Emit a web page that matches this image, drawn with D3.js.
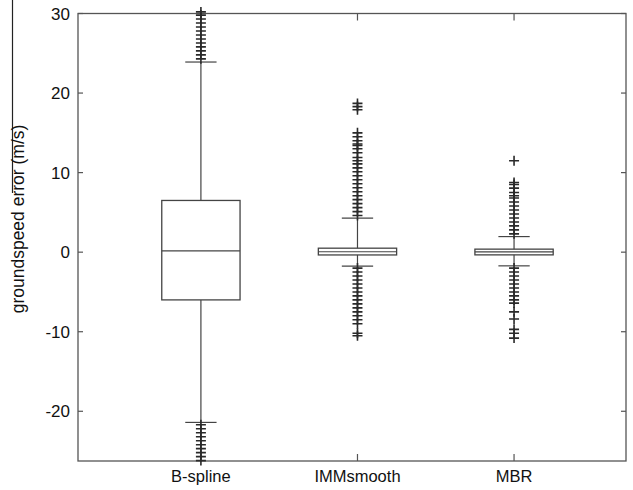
<!DOCTYPE html>
<html>
<head>
<meta charset="utf-8">
<script src="https://cdn.jsdelivr.net/npm/d3@7"></script>
<style>
  body { margin: 0; background: #fff; }
  svg text { font-family: "Liberation Sans", Arial, sans-serif; fill: #111; }
</style>
</head>
<body>
<div id="chart"></div>
<script>
// categories and box statistics
const categories = ["B-spline", "IMMsmooth", "MBR"];
const q1 = [-6.0, -0.35, -0.34];
const median = [0.15, 0.05, 0.04];
const q3 = [6.5, 0.5, 0.38];
const whiskerLow = [-21.4, -1.75, -1.72];
const whiskerHigh = [23.9, 4.28, 1.96];

// outliers ("+" markers)
const outliersBspline = [
  24.3, 24.8, 25.3, 25.8, 26.3, 26.8, 27.3, 27.8, 28.3, 28.8, 29.3, 29.8, 30.2,
  -21.7, -22.2, -22.7, -23.2, -23.7, -24.2, -24.7, -25.2, -25.7, -26.2
];
const outliersIMM = [
  4.6, 5.1, 5.6, 6.1, 6.6, 7.1, 7.6, 8.1, 8.6, 9.1, 9.6, 10.1, 10.6, 11.1, 11.5, 11.9,
  12.5, 13.0, 13.4, 13.6, 14.0, 14.5, 15.0, 17.9, 18.3, 18.7,
  -2.0, -2.5, -3.0, -3.5, -4.0, -4.5, -5.0, -5.5, -6.0, -6.5, -7.0, -7.5, -8.0, -8.5,
  -9.0, -10.2, -10.5
];
const outliersMBR = [
  2.3, 2.8, 3.3, 3.8, 4.3, 4.8, 5.3, 5.8, 6.3, 6.8, 7.1, 7.5, 8.05, 8.5, 8.75, 11.5,
  -2.0, -2.5, -3.0, -3.5, -4.0, -4.5, -5.0, -5.5, -6.0, -6.4, -7.5, -8.4, -9.7, -10.2, -10.8
];
const outliers = [outliersBspline, outliersIMM, outliersMBR];

const yTicks = [-20, -10, 0, 10, 20, 30];
const yLabel = "groundspeed error (m/s)";

const W = 633, H = 490;
const plot = { left: 78, right: 626, top: 13.5, bottom: 461 };

const svg = d3.select("#chart").append("svg")
  .attr("width", W).attr("height", H);

const x = d3.scaleLinear().domain([0.215, 3.715]).range([plot.left, plot.right]);
const y = d3.scaleLinear().domain([-26.25, 30]).range([plot.bottom, plot.top]);

const lineColor = "#444";
const boxHalf = 0.25, capHalf = 0.1;

// stray vertical line at the far left of the original figure
svg.append("line")
  .attr("x1", 12.5).attr("x2", 12.5).attr("y1", 0).attr("y2", 193)
  .attr("stroke", "#222").attr("stroke-width", 1.2);

// axes box
svg.append("rect")
  .attr("x", plot.left).attr("y", plot.top)
  .attr("width", plot.right - plot.left).attr("height", plot.bottom - plot.top)
  .attr("fill", "none").attr("stroke", "#555").attr("stroke-width", 1.3);

// y ticks (inside, both sides)
const yt = svg.append("g");
yTicks.forEach(t => {
  yt.append("line").attr("x1", plot.left).attr("x2", plot.left + 5)
    .attr("y1", y(t)).attr("y2", y(t)).attr("stroke", "#555").attr("stroke-width", 1.2);
  yt.append("line").attr("x1", plot.right).attr("x2", plot.right - 5)
    .attr("y1", y(t)).attr("y2", y(t)).attr("stroke", "#555").attr("stroke-width", 1.2);
  yt.append("text").attr("x", 70).attr("y", y(t)).attr("dy", "0.36em")
    .attr("text-anchor", "end").style("font-size", "17px").text(t);
});

// x ticks
const xt = svg.append("g");
categories.forEach((c, i) => {
  const cx = x(i + 1);
  xt.append("line").attr("x1", cx).attr("x2", cx)
    .attr("y1", plot.bottom).attr("y2", plot.bottom - 7).attr("stroke", "#555").attr("stroke-width", 1.2);
  xt.append("line").attr("x1", cx).attr("x2", cx)
    .attr("y1", plot.top).attr("y2", plot.top + 7).attr("stroke", "#555").attr("stroke-width", 1.2);
  xt.append("text").attr("x", cx).attr("y", 482)
    .attr("text-anchor", "middle").style("font-size", "16.5px").text(c);
});

// y label
svg.append("text")
  .attr("transform", "translate(24,219) rotate(-90)")
  .attr("text-anchor", "middle").style("font-size", "17.5px").text(yLabel);

// boxes
const boxes = svg.append("g")
  .selectAll("g").data(categories).join("g");

boxes.each(function (c, i) {
  const g = d3.select(this);
  const p = i + 1;
  // whiskers
  g.append("line").attr("x1", x(p)).attr("x2", x(p))
    .attr("y1", y(q3[i])).attr("y2", y(whiskerHigh[i]))
    .attr("stroke", lineColor).attr("stroke-width", 1.2);
  g.append("line").attr("x1", x(p)).attr("x2", x(p))
    .attr("y1", y(q1[i])).attr("y2", y(whiskerLow[i]))
    .attr("stroke", lineColor).attr("stroke-width", 1.2);
  [whiskerHigh[i], whiskerLow[i]].forEach(v => {
    g.append("line").attr("x1", x(p - capHalf)).attr("x2", x(p + capHalf))
      .attr("y1", y(v)).attr("y2", y(v))
      .attr("stroke", lineColor).attr("stroke-width", 1.2);
  });
  // box
  g.append("rect")
    .attr("x", x(p - boxHalf)).attr("y", y(q3[i]))
    .attr("width", x(p + boxHalf) - x(p - boxHalf))
    .attr("height", y(q1[i]) - y(q3[i]))
    .attr("fill", "none").attr("stroke", lineColor).attr("stroke-width", 1.3);
  g.append("line").attr("x1", x(p - boxHalf)).attr("x2", x(p + boxHalf))
    .attr("y1", y(median[i])).attr("y2", y(median[i]))
    .attr("stroke", lineColor).attr("stroke-width", 1.2);
  // outliers as "+"
  g.selectAll("path.out").data(outliers[i]).join("path")
    .attr("class", "out")
    .attr("d", v => {
      const cx = x(p), cy = y(v), r = 5;
      return `M${cx - r},${cy}H${cx + r}M${cx},${cy - r}V${cy + r}`;
    })
    .attr("stroke", "#2a2a2a").attr("stroke-width", 1.6).attr("fill", "none");
});
</script>
</body>
</html>
